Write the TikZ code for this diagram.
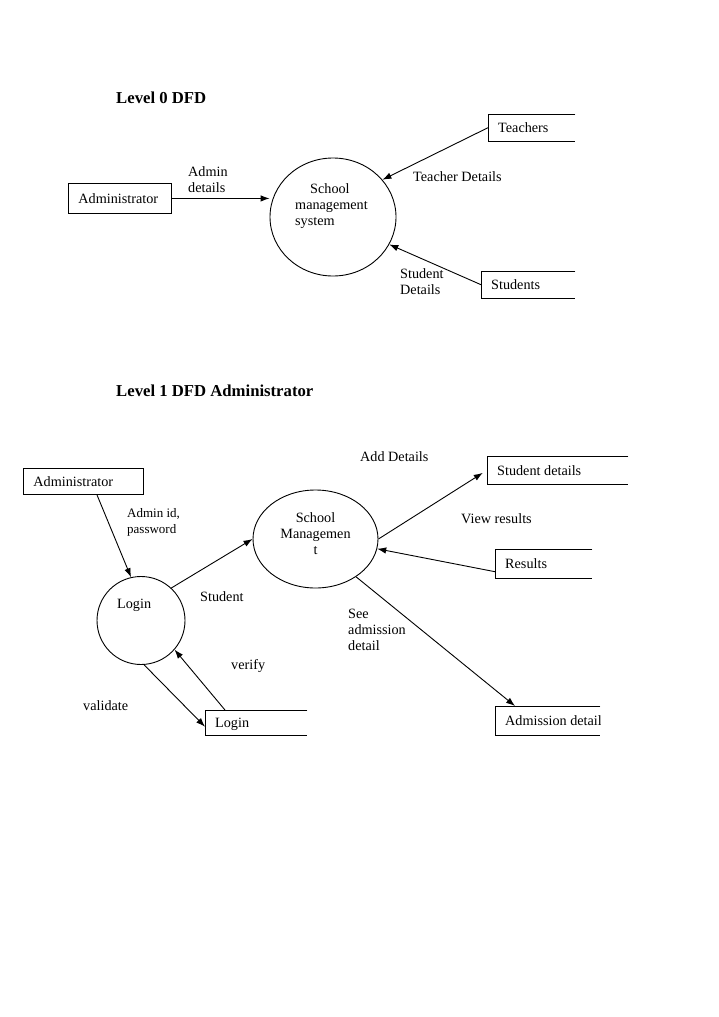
\documentclass[tikz,border=0pt]{standalone}
\usepackage{fontspec}
\setmainfont{Liberation Serif}
\usetikzlibrary{arrows.meta,shapes.geometric}
\newcommand\openstore[1]{\draw[line width=0.9pt] (#1.north east) -- (#1.north west) -- (#1.south west) -- (#1.south east);}
\begin{document}
\begin{tikzpicture}[x=1pt,y=-1pt,
  every node/.style={font=\fontsize{14.2}{16.2}\selectfont, inner sep=0pt},
  head/.style={font=\fontsize{16.7}{20}\selectfont\bfseries, anchor=base west},
  lbl/.style={anchor=base west},
  mlbl/.style={anchor=north west, align=left},
  small/.style={font=\fontsize{13}{16}\selectfont},
  store/.style={inner xsep=10pt, inner ysep=0pt, anchor=north west, text height=9.7pt, text depth=0pt},
  ent/.style={store, draw, line width=0.9pt},
  proc/.style={ellipse, draw, line width=0.9pt, inner sep=0pt},
  flow/.style={draw, line width=0.9pt, -{Latex[length=9pt,width=6.5pt]}}
]
\fill[white] (0,0) rectangle (719,1017);
\useasboundingbox (0,0) rectangle (719,1017);

% ---------------- Level 0 ----------------
\node[head] (h0) at (116,103) {Level 0 DFD};

\node[ent, minimum height=30pt] (adm0) at (68,183) {\makebox[83pt][l]{Administrator}};
\node[proc, minimum width=126pt, minimum height=118pt] (sms) at (333,217) {};
\node[mlbl] (smsT) at (295,183.3) {\hspace*{15pt}School\\management\\system};
\node[store, minimum height=27pt] (teach) at (488,114) {\makebox[67pt][l]{Teachers}};
\openstore{teach}
\node[store, minimum height=27pt] (stud) at (481,271) {\makebox[74pt][l]{Students}};
\openstore{stud}

\draw[flow] (adm0.east) -- (adm0.east -| sms.west);
\draw[flow] (teach.west) -- (sms.37);
\draw[flow] (stud.west) -- (sms.-26);

\node[mlbl] (l1) at (188,166.3) {Admin\\details};
\node[lbl] (l2) at (413,181) {Teacher Details};
\node[mlbl] (l3) at (400,268.3) {Student\\Details};

% ---------------- Level 1 ----------------
\node[head] (h1) at (116,396) {Level 1 DFD Administrator};

\node[ent, minimum height=26pt] (adm1) at (23,468) {\makebox[100pt][l]{Administrator}};
\node[proc, circle, minimum size=88pt] (login) at (141,620.5) {};
\node[lbl] (loginT) at (117,608) {Login};
\node[proc, minimum width=125pt, minimum height=98pt] (sm) at (315.5,539) {};
\node[anchor=north, align=center] (smT) at (315.5,512.3) {School\\Managemen\\t};

\node[store, minimum height=25pt] (ls) at (205,710) {\makebox[82pt][l]{Login}};
\openstore{ls}
\node[store, minimum height=28pt] (sdet) at (487,456) {\makebox[121pt][l]{Student details}};
\openstore{sdet}
\node[store, minimum height=29pt] (res) at (495,549) {\makebox[77pt][l]{Results}};
\openstore{res}
\begin{scope}
  \clip (490,700) rectangle (600.5,740);
  \node[store, minimum height=29pt] (adet) at (495,706) {\makebox[85pt][l]{Admission detail}};
\end{scope}
\openstore{adet}

\draw[flow] ([xshift=74pt]adm1.south west) -- (login.103);
\draw[flow] (login.47) -- (sm.west);
\draw[flow, shorten >=5pt] (sm.east) -- (sdet.west);
\draw[flow] ([yshift=-8pt]res.west) -- (sm.-9);
\draw[flow] (sm.-43) -- ([xshift=20pt]adet.north west);
\draw[flow] (login.-86) -- ([yshift=-4pt]ls.west);
\draw[flow] ([xshift=20pt]ls.north west) -- (login.-41);

\node[mlbl, small] (l4) at (127,508.1) {Admin id,\\password};
\node[lbl] (l5) at (200,601) {Student};
\node[lbl] (l6) at (231,669) {verify};
\node[lbl] (l7) at (83,710) {validate};
\node[lbl] (l8) at (360,461) {Add Details};
\node[lbl] (l9) at (461,523) {View results};
\node[mlbl] (l10) at (348,608.5) {See\\admission\\detail};
\end{tikzpicture}
\end{document}
